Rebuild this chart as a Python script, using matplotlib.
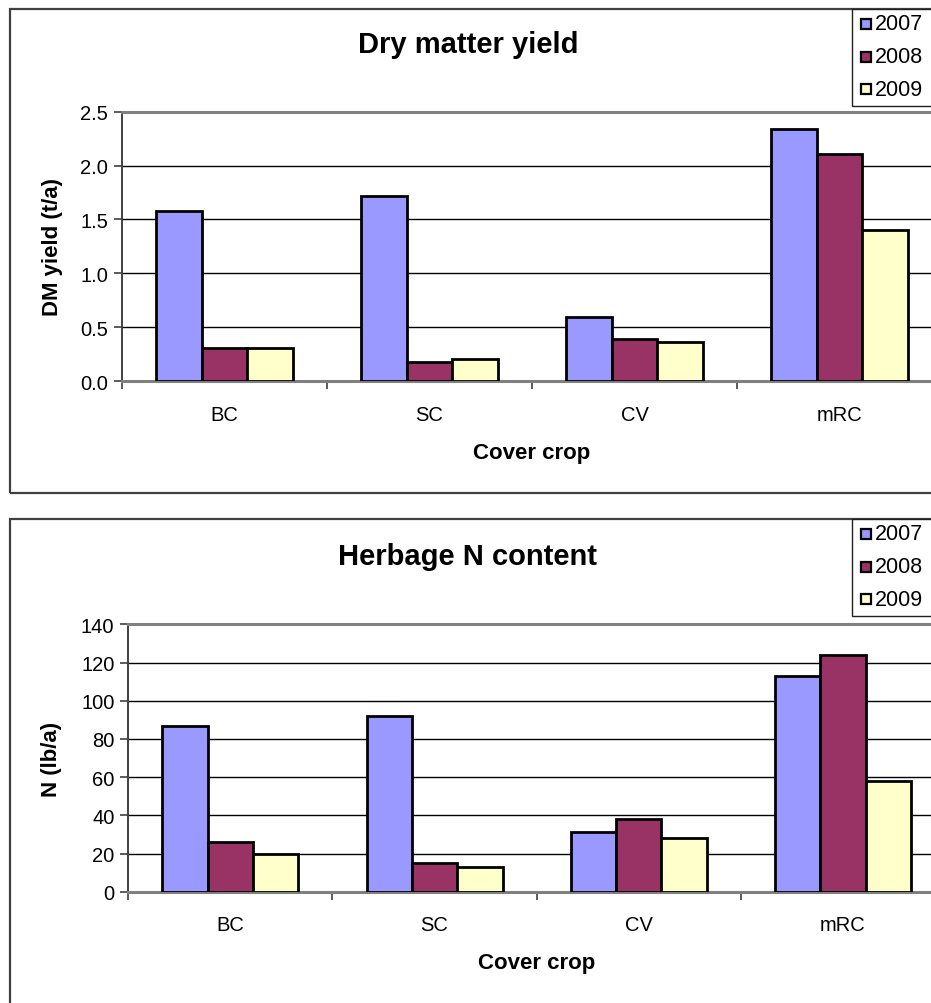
import matplotlib
matplotlib.use("Agg")
import matplotlib.pyplot as plt
from matplotlib.patches import Rectangle
import numpy as np

plt.rcParams['font.family'] = ['Liberation Sans', 'DejaVu Sans']

categories = ["BC", "SC", "CV", "mRC"]
years = ["2007", "2008", "2009"]
colors = ["#9999FF", "#993366", "#FFFFCC"]

dm_2007 = [1.58, 1.72, 0.59, 2.34]
dm_2008 = [0.31, 0.18, 0.39, 2.11]
dm_2009 = [0.31, 0.20, 0.36, 1.40]

n_2007 = [87, 92, 31, 113]
n_2008 = [26, 15, 38, 124]
n_2009 = [20, 13, 28, 58]

dm_ticks = [0.0, 0.5, 1.0, 1.5, 2.0, 2.5]
dm_ticklabels = ["0.0", "0.5", "1.0", "1.5", "2.0", "2.5"]
n_ticks = [0, 20, 40, 60, 80, 100, 120, 140]

W, H = 931, 1004
fig = plt.figure(figsize=(W / 100, H / 100), dpi=100)


def px_rect(x0, y0, x1, y1):
    """Convert a pixel box (top-left origin) to a figure-fraction rect."""
    return [x0 / W, 1 - y1 / H, (x1 - x0) / W, (y1 - y0) / H]


def panel(frame, axbox, series, ticks, ticklabels, ylabel, title, title_y, legend_top):
    # outer chart frame
    fx0, fy0, fx1, fy1 = frame
    fig.add_artist(Rectangle((fx0 / W, 1 - fy1 / H), (fx1 - fx0) / W, (fy1 - fy0) / H,
                             transform=fig.transFigure, fill=False,
                             edgecolor="#404040", linewidth=1.6, clip_on=False))

    ax = fig.add_axes(px_rect(*axbox))
    x = np.arange(len(categories))
    bw = 1 / 4.5
    for i, vals in enumerate(series):
        ax.bar(x + (i - 1) * bw, vals, width=bw, color=colors[i],
               edgecolor="black", linewidth=2.0, zorder=3)

    ax.set_xlim(-0.5, len(categories) - 0.5)
    ax.set_ylim(ticks[0], ticks[-1])
    ax.set_yticks(ticks)
    ax.set_yticklabels(ticklabels, fontsize=14.5)
    ax.yaxis.grid(True, color="black", linewidth=1.0, zorder=0)
    ax.set_axisbelow(True)

    ax.set_xticks(x)
    ax.set_xticklabels(categories, fontsize=14.5)
    ax.tick_params(axis="x", length=0, pad=17)
    ax.set_xticks(np.arange(len(categories) + 1) - 0.5, minor=True)
    ax.tick_params(axis="x", which="minor", length=6, width=1.2, color="#404040", direction="out")
    ax.tick_params(axis="y", length=6, width=1.2, color="#404040", direction="out", pad=4)

    ax.spines["right"].set_visible(False)
    ax.spines["top"].set_color("#808080")
    ax.spines["top"].set_linewidth(2.2)
    ax.spines["bottom"].set_color("#808080")
    ax.spines["bottom"].set_linewidth(2.2)
    ax.spines["left"].set_color("#404040")
    ax.spines["left"].set_linewidth(1.4)

    ax.set_xlabel("Cover crop", fontsize=16, fontweight="bold", labelpad=13)
    ax.set_ylabel(ylabel, fontsize=16, fontweight="bold")
    ax_w = axbox[2] - axbox[0]
    ax.yaxis.set_label_coords((52 - axbox[0]) / ax_w, 0.5)
    ax.yaxis.label.set_va("center")

    fig.text(468 / W, 1 - title_y / H, title, ha="center", va="center",
             fontsize=21, fontweight="bold")

    # legend box
    lx0, ly0, ly1 = 852, legend_top, legend_top + 97
    fig.add_artist(Rectangle((lx0 / W, 1 - ly1 / H), (W + 10 - lx0) / W, (ly1 - ly0) / H,
                             transform=fig.transFigure, facecolor="white",
                             edgecolor="#202020", linewidth=1.0, clip_on=False, zorder=5))
    for i, yr in enumerate(years):
        cy = legend_top + 15 + i * 32.5
        s = 10
        fig.add_artist(Rectangle(((866 - s / 2) / W, 1 - (cy + s / 2) / H), s / W, s / H,
                                 transform=fig.transFigure, facecolor=colors[i],
                                 edgecolor="black", linewidth=1.6, zorder=6))
        fig.text(875 / W, 1 - cy / H, yr, ha="left", va="center", fontsize=15.5, zorder=7)
    return ax


panel((10, 10, W + 20, 494), (122, 112.7, 942, 382),
      [dm_2007, dm_2008, dm_2009], dm_ticks, dm_ticklabels,
      "DM yield (t/a)", "Dry matter yield", 45, 10)

panel((10, 520, W + 20, H + 20), (128.3, 625.3, 945, 892.7),
      [n_2007, n_2008, n_2009], n_ticks, [str(t) for t in n_ticks],
      "N (lb/a)", "Herbage N content", 557, 520)

fig.savefig("out.png", dpi=100)
